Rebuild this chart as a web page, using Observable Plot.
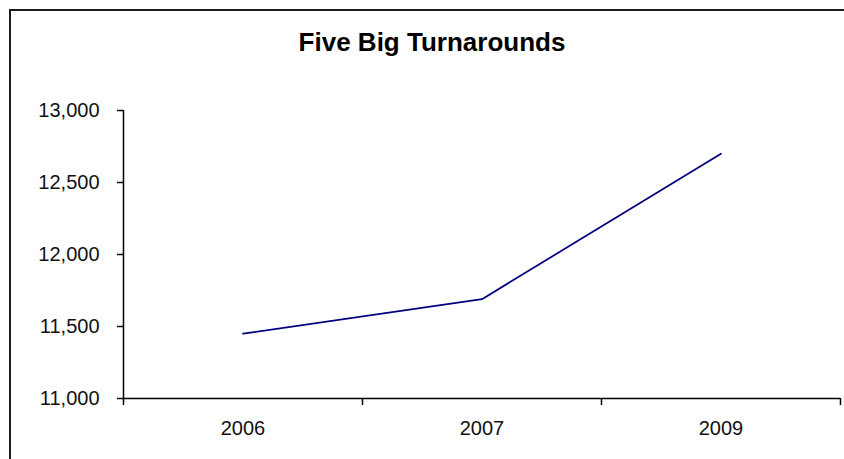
<!DOCTYPE html>
<html>
<head>
<meta charset="utf-8">
<script src="https://cdn.jsdelivr.net/npm/d3@7"></script>
<script src="https://cdn.jsdelivr.net/npm/@observablehq/plot@0.6"></script>
<style>
  html, body { margin: 0; padding: 0; background: #fff; overflow: hidden; }
  #wrap { position: relative; width: 844px; height: 459px; }
  #frame {
    position: absolute; left: 9px; top: 9px; width: 900px; height: 500px;
    border-left: 2px solid #1a1a1a; border-top: 2px solid #1a1a1a;
    pointer-events: none;
  }
  #title {
    position: absolute; left: 20px; width: 824px; top: 29px;
    text-align: center; font: bold 26px/26px "Liberation Sans", Arial, sans-serif;
    color: #000;
  }
  svg { position: absolute; left: 0; top: 0; }
</style>
</head>
<body>
<div id="wrap">
  <div id="chart"></div>
  <div id="frame"></div>
  <div id="title">Five Big Turnarounds</div>
</div>
<script>
// Years on the category axis and the series value for each
const years = ["2006", "2007", "2009"];
const values = [11450, 11690, 12700];
const yTicks = [11000, 11500, 12000, 12500, 13000];

// Each category sits in the middle of its own slot; slot edges carry the ticks
const data = years.map((year, i) => ({ slot: i + 0.5, year, value: values[i] }));
const slotEdges = d3.range(years.length + 1);
const slotCenters = data.map(d => d.slot);

const font = '"Liberation Sans", Arial, sans-serif';

const chart = Plot.plot({
  width: 844,
  height: 459,
  marginLeft: 123,
  marginRight: 4,
  marginTop: 110,
  marginBottom: 61,
  style: { fontFamily: font, fontSize: "20px", color: "#111", background: "transparent" },
  x: { domain: [0, years.length], axis: null },
  y: { domain: [11000, 13000], axis: null },
  marks: [
    Plot.axisY({ ticks: yTicks, tickSize: 6, tickPadding: 18, tickFormat: d3.format(","), label: null, stroke: "#000", strokeWidth: 1.5 }),
    Plot.axisX({ ticks: slotEdges, tickSize: 7, tickFormat: () => "", label: null, stroke: "#000", strokeWidth: 1.5 }),
    Plot.axisX({ ticks: slotCenters, tickSize: 0, tickPadding: 22, tickFormat: s => years[Math.floor(s)], label: null }),
    Plot.ruleX([0], { stroke: "#000", strokeWidth: 1.5 }),
    Plot.ruleY([11000], { stroke: "#000", strokeWidth: 1.5 }),
    Plot.line(data, { x: "slot", y: "value", stroke: "#000080", strokeWidth: 1.75 })
  ]
});
document.getElementById("chart").appendChild(chart);
</script>
</body>
</html>
